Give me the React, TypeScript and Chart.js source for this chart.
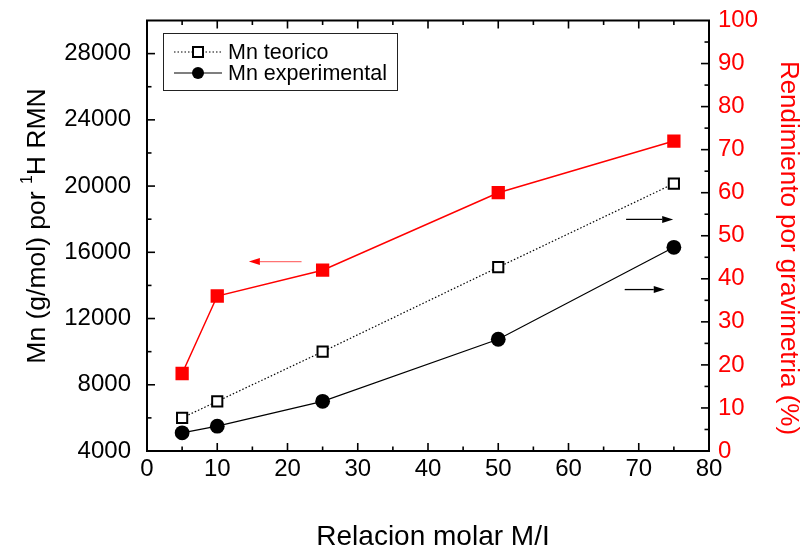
import React, { useEffect, useRef } from 'react';
import { Chart, registerables } from 'chart.js';

Chart.register(...registerables);

// Molar ratio M/I
const molarRatio = [5, 10, 25, 50, 75];
// Mn (g/mol) by 1H NMR
const mnTeorico = [6000, 7000, 10000, 15100, 20150];
const mnExperimental = [5100, 5500, 7000, 10750, 16300];
// Gravimetric yield (%)
const rendimiento = [18, 36, 42, 60, 72];

const xTicks = [0, 10, 20, 30, 40, 50, 60, 70, 80];
const leftTicks = [4000, 8000, 12000, 16000, 20000, 24000, 28000];
const rightTicks = [0, 10, 20, 30, 40, 50, 60, 70, 80, 90, 100];

// Arrows pointing each series to its axis: [x start, x end, value on the yield axis]
const redArrow = [22, 14.5, 44];
const blackArrows = [
  [68.2, 74.9, 53.8],
  [68.0, 73.7, 37.5],
];

const FONT = '"Liberation Sans", Arial, sans-serif';
const RED = 'rgb(255,0,0)';

function pts(xs: number[], ys: number[]) {
  return xs.map((x, i) => ({ x, y: ys[i] }));
}

function drawArrow(ctx: CanvasRenderingContext2D, x0: number, x1: number, y: number, shaft: string, head: string) {
  const dir = Math.sign(x1 - x0);
  const hl = 11;
  const hw = 3.5;
  ctx.save();
  ctx.strokeStyle = shaft;
  ctx.lineWidth = 1.3;
  ctx.beginPath();
  ctx.moveTo(x0, y);
  ctx.lineTo(x1 - dir * hl, y);
  ctx.stroke();
  ctx.fillStyle = head;
  ctx.beginPath();
  ctx.moveTo(x1, y);
  ctx.lineTo(x1 - dir * hl, y - hw);
  ctx.lineTo(x1 - dir * hl, y + hw);
  ctx.closePath();
  ctx.fill();
  ctx.restore();
}

function drawTitles(ctx: CanvasRenderingContext2D) {
  ctx.save();
  ctx.textBaseline = 'middle';
  ctx.textAlign = 'center';

  // bottom title
  ctx.fillStyle = '#000';
  ctx.font = `28px ${FONT}`;
  ctx.fillText('Relacion molar M/I', 433, 537);

  // right title, reading top to bottom
  ctx.save();
  ctx.translate(788, 248);
  ctx.rotate(Math.PI / 2);
  ctx.fillStyle = RED;
  ctx.font = `26px ${FONT}`;
  ctx.fillText('Rendimiento por gravimetria (%)', 0, 0);
  ctx.restore();

  // left title with superscript, reading bottom to top
  ctx.save();
  ctx.translate(37.5, 226);
  ctx.rotate(-Math.PI / 2);
  ctx.fillStyle = '#000';
  ctx.textAlign = 'left';
  const size = 26.5;
  const supSize = size * 0.6;
  const partA = 'Mn (g/mol) por ';
  const sup = '1';
  const partB = 'H RMN';
  ctx.font = `${size}px ${FONT}`;
  const wA = ctx.measureText(partA).width;
  const wB = ctx.measureText(partB).width;
  ctx.font = `${supSize}px ${FONT}`;
  const wS = ctx.measureText(sup).width;
  let x = -(wA + wS + wB) / 2;
  ctx.font = `${size}px ${FONT}`;
  ctx.fillText(partA, x, 0);
  x += wA;
  ctx.font = `${supSize}px ${FONT}`;
  ctx.fillText(sup, x, -size * 0.38);
  x += wS;
  ctx.font = `${size}px ${FONT}`;
  ctx.fillText(partB, x, 0);
  ctx.restore();

  ctx.restore();
}

const framePlugin = {
  id: 'frame',
  afterDatasetsDraw(chart: any) {
    const { ctx, chartArea: a, scales } = chart;
    const sx = scales.x;
    const sy = scales.y;
    const sy1 = scales.y1;
    ctx.save();
    ctx.strokeStyle = '#000';
    ctx.lineCap = 'butt';

    // top frame line
    ctx.lineWidth = 2;
    ctx.beginPath();
    ctx.moveTo(a.left - 1, a.top);
    ctx.lineTo(a.right + 1, a.top);
    ctx.stroke();

    ctx.lineWidth = 1.6;
    const major = 8;
    const minor = 4.5;
    // bottom and top ticks
    for (let v = 5; v < 80; v += 5) {
      const px = sx.getPixelForValue(v);
      const len = v % 10 === 0 ? major : minor;
      ctx.beginPath();
      ctx.moveTo(px, a.bottom);
      ctx.lineTo(px, a.bottom - len);
      ctx.moveTo(px, a.top);
      ctx.lineTo(px, a.top + len);
      ctx.stroke();
    }
    // left ticks
    for (let v = 6000; v < 30000; v += 2000) {
      const py = sy.getPixelForValue(v);
      const len = v % 4000 === 0 ? major : minor;
      ctx.beginPath();
      ctx.moveTo(a.left, py);
      ctx.lineTo(a.left + len, py);
      ctx.stroke();
    }
    // right ticks
    for (let v = 5; v < 100; v += 5) {
      const py = sy1.getPixelForValue(v);
      const len = v % 10 === 0 ? major : minor;
      ctx.beginPath();
      ctx.moveTo(a.right, py);
      ctx.lineTo(a.right - len, py);
      ctx.stroke();
    }
    ctx.restore();

    // arrows
    drawArrow(
      ctx,
      sx.getPixelForValue(redArrow[0]),
      sx.getPixelForValue(redArrow[1]),
      sy1.getPixelForValue(redArrow[2]),
      'rgba(255,0,0,0.55)',
      RED
    );
    blackArrows.forEach((ar) => {
      drawArrow(ctx, sx.getPixelForValue(ar[0]), sx.getPixelForValue(ar[1]), sy1.getPixelForValue(ar[2]), '#000', '#000');
    });

    // legend box
    const lx = 163;
    const ly = 33;
    const lw = 234;
    const lh = 57;
    ctx.save();
    ctx.fillStyle = '#fff';
    ctx.fillRect(lx, ly, lw, lh);
    ctx.strokeStyle = '#222';
    ctx.lineWidth = 1;
    ctx.strokeRect(lx + 0.5, ly + 0.5, lw, lh);

    const rows = [
      { y: ly + 19, label: 'Mn teorico', dash: [1.5, 2], marker: 'square' },
      { y: ly + 40, label: 'Mn experimental', dash: [], marker: 'circle' },
    ];
    rows.forEach((r) => {
      ctx.strokeStyle = '#000';
      ctx.lineWidth = 1.2;
      ctx.setLineDash(r.dash);
      ctx.beginPath();
      ctx.moveTo(lx + 11, r.y);
      ctx.lineTo(lx + 59, r.y);
      ctx.stroke();
      ctx.setLineDash([]);
      const cx = lx + 35;
      if (r.marker === 'square') {
        ctx.fillStyle = '#fff';
        ctx.lineWidth = 2;
        ctx.fillRect(cx - 5, r.y - 5, 10, 10);
        ctx.strokeRect(cx - 5, r.y - 5, 10, 10);
      } else {
        ctx.fillStyle = '#000';
        ctx.beginPath();
        ctx.arc(cx, r.y, 6, 0, Math.PI * 2);
        ctx.fill();
      }
      ctx.fillStyle = '#000';
      ctx.font = `21.5px ${FONT}`;
      ctx.textBaseline = 'middle';
      ctx.textAlign = 'left';
      ctx.fillText(r.label, lx + 65, r.y + 1);
    });
    ctx.restore();

    drawTitles(ctx);
  },
};

export default function App() {
  const ref = useRef<HTMLCanvasElement | null>(null);

  useEffect(() => {
    document.body.style.margin = '0';
    const canvas = ref.current;
    if (!canvas) return;
    const noPadV = (s: any) => {
      s.paddingTop = 0;
      s.paddingBottom = 0;
    };
    const chart = new Chart(canvas, {
      type: 'line',
      data: {
        datasets: [
          {
            label: 'Mn teorico',
            data: pts(molarRatio, mnTeorico),
            borderColor: '#000',
            borderWidth: 1.2,
            borderDash: [1.5, 2],
            pointStyle: 'rect',
            pointRadius: 7.2,
            pointBorderWidth: 2,
            pointBorderColor: '#000',
            pointBackgroundColor: '#fff',
            yAxisID: 'y',
            order: 2,
          },
          {
            label: 'Mn experimental',
            data: pts(molarRatio, mnExperimental),
            borderColor: '#000',
            borderWidth: 1.2,
            pointStyle: 'circle',
            pointRadius: 7.4,
            pointBorderWidth: 0,
            pointBackgroundColor: '#000',
            yAxisID: 'y',
            order: 3,
          },
          {
            label: 'Rendimiento',
            data: pts(molarRatio, rendimiento),
            borderColor: RED,
            borderWidth: 1.5,
            pointStyle: 'rect',
            pointRadius: 9.4,
            pointBorderWidth: 0,
            pointBackgroundColor: RED,
            yAxisID: 'y1',
            order: 1,
          },
        ],
      },
      options: {
        responsive: false,
        animation: false,
        layout: { padding: { top: 20.5, left: 0, right: 0, bottom: 0 } },
        plugins: { legend: { display: false }, tooltip: { enabled: false } },
        elements: { line: { tension: 0 } },
        scales: {
          x: {
            type: 'linear',
            position: 'bottom',
            min: 0,
            max: 80,
            afterBuildTicks: (s: any) => {
              s.ticks = xTicks.map((v) => ({ value: v }));
            },
            afterFit: (s: any) => {
              s.height = 101;
              s.paddingLeft = 0;
              s.paddingRight = 0;
            },
            grid: { display: false, drawTicks: false },
            border: { display: true, color: '#000', width: 2 },
            ticks: { color: '#000', font: { family: FONT, size: 24 }, padding: 4, maxRotation: 0 },
            title: { display: false },
          },
          y: {
            type: 'linear',
            position: 'left',
            min: 4000,
            max: 30000,
            afterBuildTicks: (s: any) => {
              s.ticks = leftTicks.map((v) => ({ value: v }));
            },
            afterFit: (s: any) => {
              s.width = 147;
              noPadV(s);
            },
            grid: { display: false, drawTicks: false },
            border: { display: true, color: '#000', width: 2 },
            ticks: { color: '#000', font: { family: FONT, size: 24 }, padding: 16, callback: (v: any) => String(v) },
            title: { display: false },
          },
          y1: {
            type: 'linear',
            position: 'right',
            min: 0,
            max: 100,
            afterBuildTicks: (s: any) => {
              s.ticks = rightTicks.map((v) => ({ value: v }));
            },
            afterFit: (s: any) => {
              s.width = 97;
              noPadV(s);
            },
            grid: { display: false, drawTicks: false },
            border: { display: true, color: '#000', width: 2 },
            ticks: { color: RED, font: { family: FONT, size: 24 }, padding: 9 },
            title: { display: false },
          },
        },
      },
      plugins: [framePlugin],
    });
    return () => chart.destroy();
  }, []);

  return (
    <div style={{ position: 'absolute', left: 0, top: 0, width: 806, height: 552, background: '#fff' }}>
      <canvas ref={ref} width={806} height={552} style={{ display: 'block' }} />
    </div>
  );
}
